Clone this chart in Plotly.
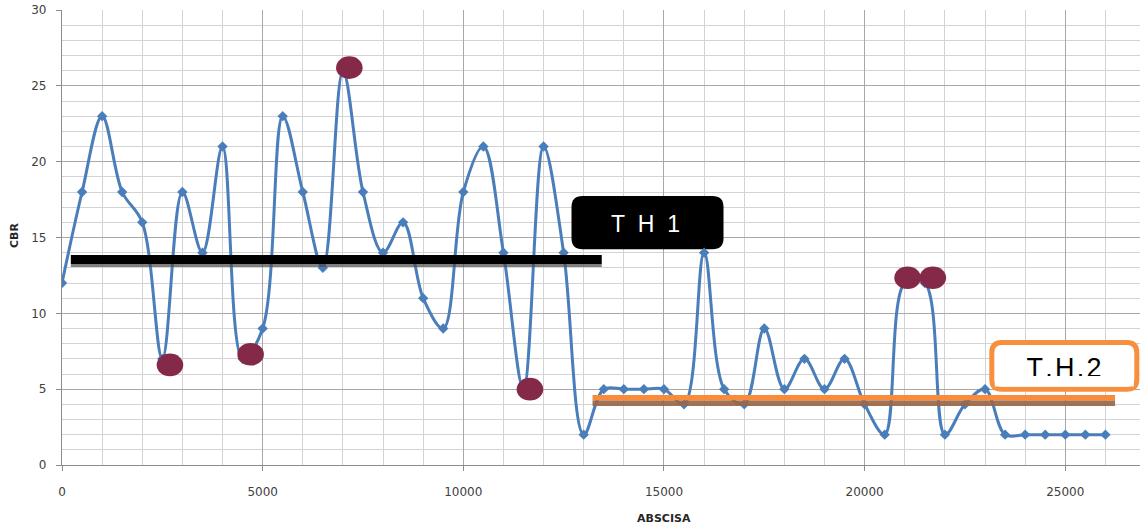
import plotly.graph_objects as go

# Survey stations (m) and measured CBR values
ABSCISA = [0, 500, 1000, 1500, 2000, 2500, 3000, 3500, 4000, 4500,
           5000, 5500, 6000, 6500, 7000, 7500, 8000, 8500, 9000, 9500,
           10000, 10500, 11000, 11500, 12000, 12500, 13000, 13500, 14000, 14500,
           15000, 15500, 16000, 16500, 17000, 17500, 18000, 18500, 19000, 19500,
           20000, 20500, 21000, 21500, 22000, 22500, 23000, 23500, 24000, 24500,
           25000, 25500, 26000]
CBR = [12, 18, 23, 18, 16, 7, 18, 14, 21, 7,
       9, 23, 18, 13, 26, 18, 14, 16, 11, 9,
       18, 21, 14, 5, 21, 14, 2, 5, 5, 5,
       5, 4, 14, 5, 4, 9, 5, 7, 5, 7,
       4, 2, 12, 12, 2, 4, 5, 2, 2, 2,
       2, 2, 2]

# Highlighted extreme readings
HIGHLIGHT_X = [2690, 4700, 7160, 11660, 21070, 21700]
HIGHLIGHT_Y = [6.6, 7.3, 26.2, 5.0, 12.35, 12.35]

# Homogeneous sections (tramos) and their design CBR
TH_NAMES = ["T\u00a0\u00a0H\u00a0\u00a01", "T\u200a.\u200aH\u200a.\u200a2"]
TH_LEVELS = [13.42, 4.25]
TH_START = [220, 13220]
TH_END = [13450, 26240]

X_TICKS = [0, 5000, 10000, 15000, 20000, 25000]
Y_TICKS = [0, 5, 10, 15, 20, 25, 30]

BLUE = "#4A7EBB"
MAROON = "#842A48"
ORANGE = "#F68C3C"
BROWN = "#9A6647"
AXIS_GREY = "#8C8C8C"
TEXT_GREY = "#404040"


def rounded_rect(hw, hh, r):
    return (f"M {-hw + r},{-hh} L {hw - r},{-hh} Q {hw},{-hh} {hw},{-hh + r} "
            f"L {hw},{hh - r} Q {hw},{hh} {hw - r},{hh} L {-hw + r},{hh} "
            f"Q {-hw},{hh} {-hw},{hh - r} L {-hw},{-hh + r} Q {-hw},{-hh} {-hw + r},{-hh} Z")


fig = go.Figure()

fig.add_trace(go.Scatter(
    x=ABSCISA, y=CBR, mode="lines+markers",
    line=dict(color=BLUE, width=3, shape="spline", smoothing=1),
    marker=dict(symbol="diamond", size=8, color=BLUE),
    showlegend=False, hoverinfo="x+y",
))

shapes = []

# Section 1: black level bar
shapes.append(dict(type="rect", xref="x", yref="y", ysizemode="pixel",
                   yanchor=TH_LEVELS[0], x0=TH_START[0], x1=TH_END[0], y0=-2.5, y1=6.5,
                   fillcolor="#000000", line=dict(width=0), layer="above"))
shapes.append(dict(type="rect", xref="x", yref="y", ysizemode="pixel",
                   yanchor=TH_LEVELS[0], x0=TH_START[0], x1=TH_END[0], y0=-5.5, y1=-2.5,
                   fillcolor="#4a4a4a", opacity=0.7, line=dict(width=0), layer="above"))

# Section 2: orange level bar with darker lower edge
shapes.append(dict(type="rect", xref="x", yref="y", ysizemode="pixel",
                   yanchor=TH_LEVELS[1], x0=TH_START[1], x1=TH_END[1], y0=0, y1=5.5,
                   fillcolor=ORANGE, line=dict(width=0), layer="above"))
shapes.append(dict(type="rect", xref="x", yref="y", ysizemode="pixel",
                   yanchor=TH_LEVELS[1], x0=TH_START[1], x1=TH_END[1], y0=-5.5, y1=0,
                   fillcolor=BROWN, opacity=0.92, line=dict(width=0), layer="above"))

# Label boxes
shapes.append(dict(type="path", xref="x", yref="y", xsizemode="pixel", ysizemode="pixel",
                   xanchor=14590, yanchor=15.98, path=rounded_rect(76, 26.6, 11),
                   fillcolor="#000000", line=dict(width=0), layer="between"))
shapes.append(dict(type="path", xref="x", yref="y", xsizemode="pixel", ysizemode="pixel",
                   xanchor=24976, yanchor=6.537, path=rounded_rect(72.5, 23.3, 10),
                   fillcolor="#FFFFFF", line=dict(color="#F78F3F", width=5), layer="between"))
# lower strip of the second label box hides the foot of its text
shapes.append(dict(type="rect", xref="x", yref="y", xsizemode="pixel", ysizemode="pixel",
                   xanchor=24976, yanchor=6.537, x0=-69.5, x1=69.5, y0=-20.7, y1=-10.2,
                   fillcolor="#FFFFFF", line=dict(width=0), layer="above"))

# Highlighted readings
for hx, hy in zip(HIGHLIGHT_X, HIGHLIGHT_Y):
    shapes.append(dict(type="circle", xref="x", yref="y", xsizemode="pixel", ysizemode="pixel",
                       xanchor=hx, yanchor=hy, x0=-13.3, x1=13.3, y0=-11.3, y1=11.3,
                       fillcolor=MAROON, line=dict(width=0), layer="above"))

# Section labels
fig.add_trace(go.Scatter(
    x=[14538], y=[15.76], mode="text", text=[TH_NAMES[0]],
    textposition="middle center",
    textfont=dict(family="Liberation Sans", size=23, color="#FFFFFF"),
    showlegend=False, hoverinfo="skip", cliponaxis=False,
))
fig.add_trace(go.Scatter(
    x=[24968], y=[6.23], mode="text", text=[TH_NAMES[1]],
    textposition="middle center",
    textfont=dict(family="Liberation Sans", size=27, color="#000000"),
    showlegend=False, hoverinfo="skip", cliponaxis=False,
))

axis_common = dict(
    showgrid=True, gridcolor="#A8A8A8", gridwidth=1.2,
    ticks="outside", ticklen=5, tickcolor=AXIS_GREY, tickwidth=1.2,
    showline=True, linecolor=AXIS_GREY, linewidth=1.3, zeroline=False,
    tickfont=dict(family="DejaVu Sans", size=12, color=TEXT_GREY),
    tickformat="d",
)

fig.update_layout(
    width=1140, height=526, autosize=False,
    margin=dict(l=62, r=0, t=10, b=61, pad=0),
    paper_bgcolor="#FFFFFF", plot_bgcolor="#FFFFFF",
    xaxis=dict(range=[0, 26862], tickvals=X_TICKS, ticklabelstandoff=10,
               minor=dict(dtick=1000, tick0=0, showgrid=True, gridcolor="#D3D3D3", gridwidth=1),
               **axis_common),
    yaxis=dict(range=[0, 30], tickvals=Y_TICKS, ticklabelstandoff=7,
               minor=dict(dtick=1, tick0=0, showgrid=True, gridcolor="#D3D3D3", gridwidth=1),
               **axis_common),
    shapes=shapes,
    annotations=[
        dict(text="<b>ABSCISA</b>", xref="paper", yref="paper", x=0.5589, y=-0.1165,
             xanchor="center", yanchor="middle", showarrow=False,
             font=dict(family="DejaVu Sans", size=11, color="#262626")),
        dict(text="<b>CBR</b>", xref="paper", yref="paper", x=-0.0436, y=0.5055,
             xanchor="center", yanchor="middle", showarrow=False, textangle=-90,
             font=dict(family="DejaVu Sans", size=11, color="#262626")),
    ],
)

fig.write_html("out.html", config={"displayModeBar": False})
